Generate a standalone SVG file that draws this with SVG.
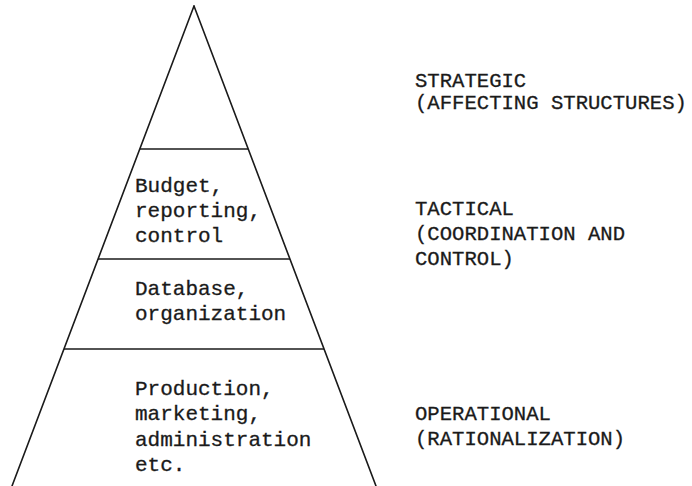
<svg xmlns="http://www.w3.org/2000/svg" width="692" height="486" viewBox="0 0 692 486">
  <style>
    .edge { stroke: #1a1a1a; stroke-width: 1.6; fill: none; stroke-linecap: round; }
    .tier { stroke: #1a1a1a; stroke-width: 1.5; fill: none; }
    .lbl { font-family: "Liberation Mono", "DejaVu Sans Mono", monospace; font-size: 21px; fill: #1a1a1a; stroke: #1a1a1a; stroke-width: 0.3; }
    .lvl { font-family: "Liberation Mono", "DejaVu Sans Mono", monospace; font-size: 20.6px; fill: #1a1a1a; stroke: #1a1a1a; stroke-width: 0.3; }
  </style>
  <rect width="692" height="486" fill="#ffffff"/>

  <!-- pyramid outline (open at the base) -->
  <g id="pyramid">
    <line class="edge" x1="194" y1="6" x2="12" y2="486"/>
    <line class="edge" x1="194" y1="6" x2="376" y2="486"/>
  </g>

  <!-- tier dividers -->
  <g id="dividers">
    <line class="tier" x1="140" y1="149" x2="248" y2="149"/>
    <line class="tier" x1="98" y1="259" x2="290" y2="259"/>
    <line class="tier" x1="64" y1="349" x2="324" y2="349"/>
  </g>

  <!-- tier contents -->
  <g id="tier-budget">
    <text class="lbl" x="135" y="192">Budget,</text>
    <text class="lbl" x="135" y="217">reporting,</text>
    <text class="lbl" x="135" y="242">control</text>
  </g>
  <g id="tier-database">
    <text class="lbl" x="135" y="295">Database,</text>
    <text class="lbl" x="135" y="320">organization</text>
  </g>
  <g id="tier-production">
    <text class="lbl" x="135" y="395">Production,</text>
    <text class="lbl" x="135" y="420">marketing,</text>
    <text class="lbl" x="135" y="446">administration</text>
    <text class="lbl" x="135" y="471">etc.</text>
  </g>

  <!-- management levels -->
  <g id="level-strategic">
    <text class="lvl" x="415" y="87">STRATEGIC</text>
    <text class="lvl" x="415" y="109">(AFFECTING STRUCTURES)</text>
  </g>
  <g id="level-tactical">
    <text class="lvl" x="415" y="215">TACTICAL</text>
    <text class="lvl" x="415" y="240">(COORDINATION AND</text>
    <text class="lvl" x="415" y="265">CONTROL)</text>
  </g>
  <g id="level-operational">
    <text class="lvl" x="415" y="420">OPERATIONAL</text>
    <text class="lvl" x="415" y="445">(RATIONALIZATION)</text>
  </g>
</svg>
